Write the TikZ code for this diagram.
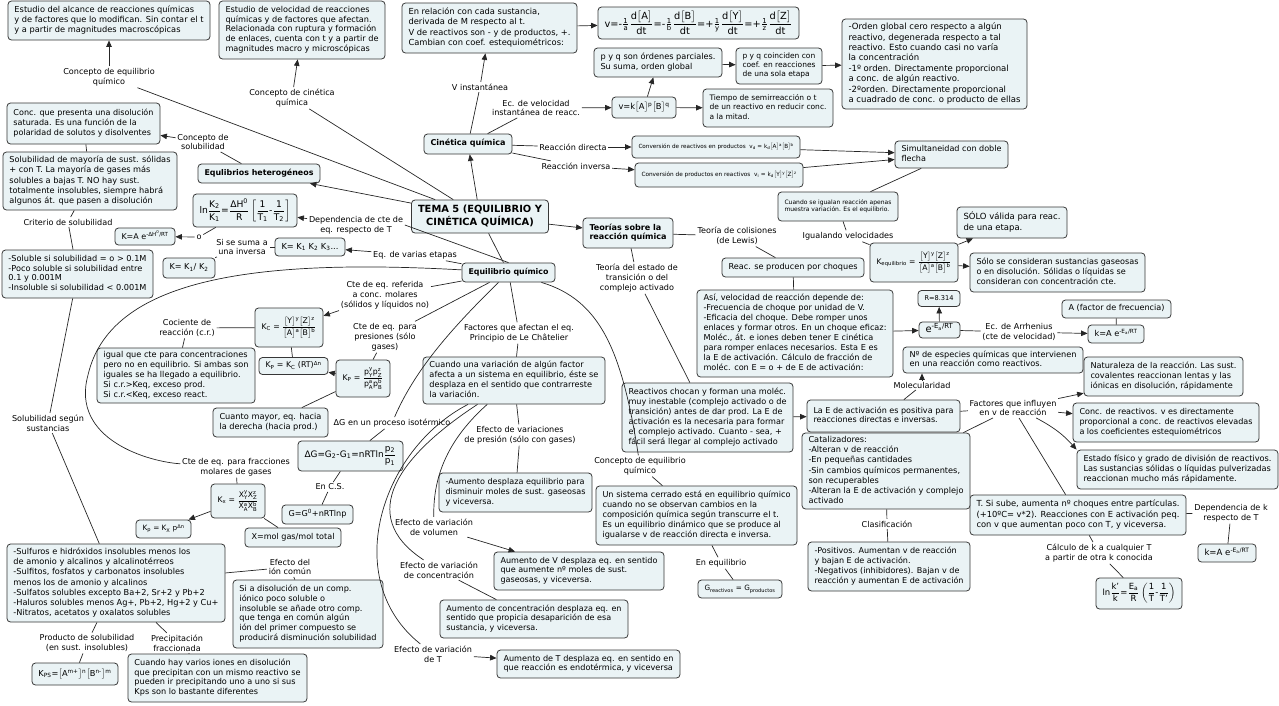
\documentclass[tikz,border=0pt]{standalone}
\usepackage{fontspec}
\setmainfont{DejaVu Sans}
\usepackage{amsmath}
\usepackage{graphicx}
\usetikzlibrary{arrows.meta}
\definecolor{fondo}{RGB}{234,243,245}
\definecolor{borde}{RGB}{55,55,55}
\newcommand{\mt}[1]{\text{#1}}
\newcommand{\frc}[2]{\dfrac{\text{#1}}{\text{#2}}}
\newcommand{\sfrc}[2]{\frac{\text{#1}}{\text{#2}}}
\newcommand{\brk}[1]{$\big[$#1$\big]$}
\newcommand{\ajusta}[2]{\resizebox{#1pt}{!}{\begin{tabular}{@{}l@{}}#2\end{tabular}}}
\newcommand{\ajustac}[2]{\resizebox{#1pt}{!}{\begin{tabular}{@{}c@{}}#2\end{tabular}}}
\begin{document}
\begin{tikzpicture}[x=1pt,y=-1pt,line width=0.7pt,draw=black!85]
\tikzset{caja/.style={draw=borde, fill=fondo, line width=0.8pt, rounded corners=3.5pt, inner xsep=6.5pt, inner ysep=2pt, font=\fontsize{8.1}{9.9}\selectfont},
  negrita/.style={caja, font=\fontsize{8.1}{9.9}\selectfont\bfseries},
  etiq/.style={inner sep=1.5pt, align=center, font=\fontsize{8.1}{9.9}\selectfont},
  flecha/.style={-{Triangle[length=6.5pt,width=5.5pt]}}}
\useasboundingbox (0,0) rectangle (1279,705);
% central node and main branches
\node[negrita, font=\fontsize{10}{12}\selectfont\bfseries, minimum height=33] (tema) at (480,216.5) {\ajustac{124}{TEMA 5 (EQUILIBRIO Y\\CINÉTICA QUÍMICA)}};
\node[negrita, minimum height=20] (cin) at (468,144) {\ajusta{75}{Cinética química}};
\node[negrita, minimum height=19] (eqq) at (508.5,272.5) {\ajusta{80}{Equilibrio químico}};
\node[negrita, minimum height=30] (teor) at (628,233) {\ajusta{77}{Teorías sobre la\\reacción química}};
\node[negrita, minimum height=19] (heter) at (259,173.5) {\ajusta{109}{Equlibrios heterogéneos}};
% concepts
\node[caja, minimum height=39] (eqdef) at (109,20.5) {\ajusta{189}{Estudio del alcance de reacciones químicas\\y de factores que lo modifican. Sin contar el t\\y a partir de magnitudes macroscópicas}};
\node[caja, minimum height=58] (cindef) at (302,30) {\ajusta{153}{Estudio de velocidad de reacciones\\químicas y de factores que afectan.\\Relacionada con ruptura y formación\\de enlaces, cuenta con t y a partir de\\magnitudes macro y microscópicas}};
\node[etiq] (lConEq) at (109,77) {Concepto de equilibrio\\químico};
\node[etiq] (lConCin) at (292,98) {Concepto de cinética\\química};
% solubility
\node[caja, minimum height=41] (soldef) at (83.5,123.5) {\ajusta{140}{Conc. que presenta una disolución\\saturada. Es una función de la\\polaridad de solutos y disolventes}};
\node[caja, minimum height=58] (solmay) at (90,181) {\ajusta{161}{Solubilidad de mayoría de sust. sólidas\\+ con T. La mayoría de gases más\\solubles a bajas T. NO hay sust.\\totalmente insolubles, siempre habrá\\algunos át. que pasen a disolución}};
\node[caja, minimum height=48] (solcrit) at (77.5,274) {\ajusta{138}{-Soluble si solubilidad = o > 0.1M\\-Poco soluble si solubilidad entre\\0.1 y 0.001M\\-Insoluble si solubilidad < 0.001M}};
\node[caja, minimum height=78] (sulf) at (116,583) {\ajusta{205}{-Sulfuros e hidróxidos insolubles menos los\\de amonio y alcalinos y alcalinotérreos\\-Sulfitos, fosfatos y carbonatos insolubles\\menos los de amonio y alcalinos\\-Sulfatos solubles excepto Ba+2, Sr+2 y Pb+2\\-Haluros solubles menos Ag+, Pb+2, Hg+2 y Cu+\\-Nitratos, acetatos y oxalatos solubles}};
\node[caja, minimum height=68] (ioncomun) at (308,614) {\ajusta{137}{Si a disolución de un comp.\\iónico poco soluble o\\insoluble se añade otro comp.\\que tenga en común algún\\ión del primer compuesto se\\producirá disminución solubilidad}};
\node[caja, minimum height=22] (kps) at (75,674) {\ajusta{73}{K\textsubscript{PS}=\brk{A\textsuperscript{m+}}\textsuperscript{n}\brk{B\textsuperscript{n-}}\textsuperscript{m}}};
\node[caja, minimum height=48] (precip) at (217.5,678) {\ajusta{166}{Cuando hay varios iones en disolución\\que precipitan con un mismo reactivo se\\pueden ir precipitando uno a uno si sus\\Kps son lo bastante diferentes}};
\node[etiq] (lConSol) at (203,142) {Concepto de\\solubilidad};
\node[etiq] (lCrit) at (68,222) {Criterio de solubilidad};
\node[etiq] (lSolSeg) at (48,423) {Solubilidad según\\sustancias};
\node[etiq] (lIon) at (290,567) {Efecto del\\ión común};
\node[etiq] (lProd) at (87,643) {Producto de solubilidad\\(en sust. insolubles)};
\node[etiq] (lPrec) at (177,643) {Precipitación\\fraccionada};
% equilibrium constants
\node[caja, minimum height=33] (lnK) at (245,210.5) {\ajusta{91}{$\mt{ln}\frc{K\textsubscript{2}}{K\textsubscript{1}}\mt{=}\frc{ΔH\textsuperscript{0}}{R}\left[\frc{1}{T\textsubscript{1}}\mt{-}\frc{1}{T\textsubscript{2}}\right]$}};
\node[caja, minimum height=17] (KAe) at (145,236.5) {\ajusta{47}{K=A e\textsuperscript{-ΔH\textsuperscript{0}/RT}}};
\node[caja, minimum height=18] (Kprod) at (310,247) {\ajusta{57}{K= K\textsubscript{1} K\textsubscript{2} K\textsubscript{3}...}};
\node[caja, minimum height=20] (Kdiv) at (189,268) {\ajusta{39}{K= K\textsubscript{1}/ K\textsubscript{2}}};
\node[caja, minimum height=39] (Kc) at (289,327.5) {\ajusta{55}{$\mt{K}_{\mt{C}}\mt{ = }\frc{\brk{Y}\textsuperscript{y}\brk{Z}\textsuperscript{z}}{\brk{A}\textsuperscript{a}\brk{B}\textsuperscript{b}}$}};
\node[caja, minimum height=55] (cr) at (176,375.5) {\ajusta{145}{igual que cte para concentraciones\\pero no en equilibrio. Si ambas son\\iguales se ha llegado a equilibrio.\\Si c.r.>Keq, exceso prod.\\Si c.r.<Keq, exceso react.}};
\node[caja, minimum height=17] (Kp) at (293.5,366) {\ajusta{56}{K\textsubscript{P} = K\textsubscript{C} (RT)\textsuperscript{Δn}}};
\node[caja, minimum height=37] (Kpp) at (363,378.5) {\ajusta{41}{$\mt{K}_{\mt{P}}\mt{ = }\frc{p$^{\mt{y}}_{\mt{Y}}$p$^{\mt{z}}_{\mt{Z}}$}{p$^{\mt{a}}_{\mt{A}}$p$^{\mt{b}}_{\mt{B}}$}$}};
\node[caja, minimum height=29] (mayor) at (270.5,422.5) {\ajusta{102}{Cuanto mayor, eq. hacia\\la derecha (hacia prod.)}};
\node[caja, minimum height=30] (dG) at (350.5,456) {\ajusta{92}{ΔG=G\textsubscript{2}-G\textsubscript{1}=nRTln$\frc{p\textsubscript{2}}{p\textsubscript{1}}$}};
\node[caja, minimum height=19] (G0) at (317.5,514.5) {\ajusta{58}{G=G\textsuperscript{0}+nRTlnp}};
\node[caja, minimum height=19] (X) at (293,537.5) {\ajusta{83}{X=mol gas/mol total}};
\node[caja, minimum height=34] (Kx) at (238,501) {\ajusta{41}{$\mt{K}_{\mt{x}}\mt{ = }\frc{X$^{\mt{y}}_{\mt{Y}}$X$^{\mt{z}}_{\mt{Z}}$}{X$^{\mt{a}}_{\mt{A}}$X$^{\mt{b}}_{\mt{B}}$}$}};
\node[caja, minimum height=18] (KpKx) at (163.5,529) {\ajusta{42}{K\textsubscript{p} = K\textsubscript{X} p\textsuperscript{Δn}}};
\node[etiq] (lDep) at (356,225) {Dependencia de cte de\\eq. respecto de T};
\node[etiq] (lO) at (199,237) {o};
\node[etiq] (lSuma) at (242,247) {Si se suma a\\una inversa};
\node[etiq] (lEtapas) at (415,255) {Eq. de varias etapas};
\node[etiq] (lCteRef) at (385,295) {Cte de eq. referida\\a conc. molares\\(sólidos y líquidos no)};
\node[etiq] (lCoc) at (187,328) {Cociente de\\reacción (c.r.)};
\node[etiq] (lCtePres) at (385,337) {Cte de eq. para\\presiones (sólo\\gases)};
\node[etiq] (lDG) at (392,423) {ΔG en un proceso isotérmico};
\node[etiq] (lCS) at (330,487) {En C.S.};
\node[etiq] (lFracc) at (236,467) {Cte de eq. para fracciones\\molares de gases};
% Le Chatelier
\node[caja, minimum height=47] (cuando) at (514,380.5) {\ajusta{169}{Cuando una variación de algún factor\\afecta a un sistema en equilibrio, éste se\\desplaza en el sentido que contrarreste\\la variación.}};
\node[caja, minimum height=39] (presion) at (515.5,492.5) {\ajusta{140}{-Aumento desplaza equilibrio para\\disminuir moles de sust. gaseosas\\y viceversa.}};
\node[caja, minimum height=38] (vol) at (579,571) {\ajusta{157}{Aumento de V desplaza eq. en sentido\\que aumente nº moles de sust.\\gaseosas, y viceversa.}};
\node[caja, minimum height=38] (conc) at (534,619) {\ajusta{175}{Aumento de concentración desplaza eq. en\\sentido que propicia desaparición de esa\\sustancia, y viceversa.}};
\node[caja, minimum height=28] (Tef) at (588.5,664) {\ajusta{170}{Aumento de T desplaza eq. en sentido en\\que reacción es endotérmica, y viceversa}};
\node[caja, minimum height=59] (sist) at (696.5,515.5) {\ajusta{188}{Un sistema cerrado está en equilibrio químico\\cuando no se observan cambios en la\\composición química según transcurre el t.\\Es un equilibrio dinámico que se produce al\\igualarse v de reacción directa e inversa.}};
\node[caja, minimum height=18] (G) at (740,589) {\ajusta{71}{G\textsubscript{reactivos} = G\textsubscript{productos}}};
\node[etiq] (lFactEq) at (519,333) {Factores que afectan el eq.\\Principio de Le Châtelier};
\node[etiq] (lPres) at (520,435) {Efecto de variaciones\\de presión (sólo con gases)};
\node[etiq] (lVol) at (434,527) {Efecto de variación\\de volumen};
\node[etiq] (lConc) at (439,570) {Efecto de variación\\de concentración};
\node[etiq] (lTef) at (433,654) {Efecto de variación\\de T};
\node[etiq] (lConEq2) at (640,466) {Concepto de equilibrio\\químico};
\node[etiq] (lEnEq) at (721,563) {En equilibrio};
% kinetics
\node[caja, minimum height=50] (enrel) at (489.5,28) {\ajusta{162}{En relación con cada sustancia,\\derivada de M respecto al t.\\V de reactivos son - y de productos, +.\\Cambian con coef. estequiométricos:}};
\node[caja, minimum height=32] (vdef) at (698.5,23) {\ajusta{188}{$\mt{v=-}\sfrc{1}{a}\frc{d\brk{A}}{dt}\mt{=-}\sfrc{1}{b}\frc{d\brk{B}}{dt}\mt{=+}\sfrc{1}{y}\frc{d\brk{Y}}{dt}\mt{=+}\sfrc{1}{z}\frc{d\brk{Z}}{dt}$}};
\node[caja, minimum height=21] (vk) at (644,107.5) {\ajusta{51}{v=k\brk{A}\textsuperscript{p}\brk{B}\textsuperscript{q}}};
\node[caja, minimum height=29] (pq) at (658,62.5) {\ajusta{115}{p y q son órdenes parciales.\\Su suma, orden global}};
\node[caja, minimum height=36] (pqcoin) at (779,66) {\ajusta{73}{p y q coinciden con\\coef. en reacciones\\de una sola etapa}};
\node[caja, minimum height=90] (orden) at (934.5,64) {\ajusta{172}{-Orden global cero respecto a algún\\reactivo, degenerada respecto a tal\\reactivo. Esto cuando casi no varía\\la concentración\\-1º orden. Directamente proporcional\\a conc. de algún reactivo.\\-2ºorden. Directamente proporcional\\a cuadrado de conc. o producto de ellas}};
\node[caja, minimum height=38] (semi) at (768,108) {\ajusta{117}{Tiempo de semirreacción o t\\de un reactivo en reducir conc.\\a la mitad.}};
\node[caja, minimum height=22] (convd) at (716,147) {\ajusta{155}{Conversión de reactivos en productos\ \ v\textsubscript{d} = k\textsubscript{d}\brk{A}\textsuperscript{a}\brk{B}\textsuperscript{b}}};
\node[caja, minimum height=24] (convi) at (719,175) {\ajusta{155}{Conversión de productos en reactivos\ \ v\textsubscript{i} = k\textsubscript{d}\brk{Y}\textsuperscript{y}\brk{Z}\textsuperscript{z}}};
\node[caja, minimum height=27] (simul) at (951.5,154.5) {\ajusta{100}{Simultaneidad con doble\\flecha}};
\node[caja, minimum height=29] (igual) at (838,206.5) {\ajusta{107}{Cuando se igualan reacción apenas\\muestra variación. Es el equilibrio.}};
\node[caja, minimum height=39] (Keq) at (914,262.5) {\ajusta{75}{$\mt{K}_{\mt{equilibrio}}\mt{ = }\frc{\brk{Y}\textsuperscript{y}\brk{Z}\textsuperscript{z}}{\brk{A}\textsuperscript{a}\brk{B}\textsuperscript{b}}$}};
\node[caja, minimum height=31] (solo) at (1012,222.5) {\ajusta{97}{SÓLO válida para reac.\\de una etapa.}};
\node[caja, minimum height=39] (solocons) at (1057.5,272.5) {\ajusta{162}{Sólo se consideran sustancias gaseosas\\o en disolución. Sólidas o líquidas se\\consideran con concentración cte.}};
\node[etiq] (lVinst) at (480,87) {V instantánea};
\node[etiq] (lEcvel) at (536,108) {Ec. de velocidad\\instantánea de reacc.};
\node[etiq] (lRdir) at (573,147) {Reacción directa};
\node[etiq] (lRinv) at (576,166) {Reacción inversa};
\node[etiq] (lIguala) at (848,236) {Igualando velocidades};
% reaction theories
\node[caja, minimum height=19] (choques) at (793,267.5) {\ajusta{129}{Reac. se producen por choques}};
\node[caja, minimum height=87] (asi) at (795,333.5) {\ajusta{183}{Así, velocidad de reacción depende de:\\-Frecuencia de choque por unidad de V.\\-Eficacia del choque. Debe romper unos\\enlaces y formar otros. En un choque eficaz:\\*Moléc., át. e iones deben tener E cinética\\para romper enlaces necesarios. Esta E es\\la E de activación. Cálculo de fracción de\\moléc. con E = o + de E de activación:}};
\node[caja, minimum height=16] (exp) at (939.5,330) {\ajusta{28}{e\textsuperscript{-E\textsubscript{a}/RT}}};
\node[caja, minimum height=16] (R) at (939,298.5) {\ajusta{29}{R=8.314}};
\node[caja, minimum height=18] (karr) at (1116,334) {\ajusta{43}{k=A e\textsuperscript{-E\textsubscript{a}/RT}}};
\node[caja, minimum height=18] (Afac) at (1116.5,309) {\ajusta{96}{A (factor de frecuencia)}};
\node[caja, minimum height=26] (nesp) at (993,360) {\ajusta{167}{Nº de especies químicas que intervienen\\en una reacción como reactivos.}};
\node[caja, minimum height=69] (react) at (707.5,417.5) {\ajusta{158}{Reactivos chocan y forman una moléc.\\muy inestable (complejo activado o de\\transición) antes de dar prod. La E de\\activación es la necesaria para formar\\el complejo activado. Cuanto - sea, +\\fácil será llegar al complejo activado}};
\node[caja, minimum height=32] (Ea) at (883.5,416) {\ajusta{140}{La E de activación es positiva para\\reacciones directas e inversas.}};
\node[caja, minimum height=39] (natur) at (1163.5,376.5) {\ajusta{146}{Naturaleza de la reacción. Las sust.\\covalentes reaccionan lentas y las\\iónicas en disolución, rápidamente}};
\node[caja, minimum height=39] (concr) at (1166,422.5) {\ajusta{173}{Conc. de reactivos. v es directamente\\proporcional a conc. de reactivos elevadas\\a los coeficientes estequiométricos}};
\node[caja, minimum height=39] (estado) at (1177.5,469.5) {\ajusta{188}{Estado físico y grado de división de reactivos.\\Las sustancias sólidas o líquidas pulverizadas\\reaccionan mucho más rápidamente.}};
\node[caja, minimum height=40] (T) at (1078,515) {\ajusta{203}{T. Si sube, aumenta nº choques entre partículas.\\(+10ºC= v*2). Reacciones con E activación peq.\\con v que aumentan poco con T, y viceversa.}};
\node[caja, minimum height=18] (kT) at (1227,553) {\ajusta{45}{k=A e\textsuperscript{-E\textsubscript{a}/RT}}};
\node[caja, minimum height=31] (ln) at (1139,593.5) {\ajusta{73}{$\mt{ln}\frc{k'}{k}\mt{=}\frc{E\textsubscript{a}}{R}\left(\frc{1}{T}\mt{-}\frc{1}{T'}\right)$}};
\node[caja, minimum height=76] (catal) at (886,471) {\ajusta{155}{Catalizadores:\\-Alteran v de reacción\\-En pequeñas cantidades\\-Sin cambios químicos permanentes,\\son recuperables\\-Alteran la E de activación y complejo\\activado}};
\node[caja, minimum height=49] (posit) at (889,566.5) {\ajusta{149}{-Positivos. Aumentan v de reacción\\y bajan E de activación.\\-Negativos (inhibidores). Bajan v de\\reacción y aumentan E de activación}};
\node[etiq] (lColis) at (737,236) {Teoría de colisiones\\(de Lewis)};
\node[etiq] (lTrans) at (637,278) {Teoría del estado de\\transición o del\\complejo activado};
\node[etiq] (lArrh) at (1019,332) {Ec. de Arrhenius\\(cte de velocidad)};
\node[etiq] (lMolec) at (922,385) {Molecularidad};
\node[etiq] (lFact) at (1013,408) {Factores que influyen\\en v de reacción};
\node[etiq] (lDepk) at (1231,513) {Dependencia de k\\respecto de T};
\node[etiq] (lCalc) at (1099,553) {Cálculo de k a cualquier T\\a partir de otra k conocida};
\node[etiq] (lClas) at (887,524) {Clasificación};
% connectors
\draw (tema) -- (lConEq);
\draw[flecha] (lConEq) -- (eqdef);
\draw (tema) -- (lConCin);
\draw[flecha] (lConCin) -- (cindef);
\draw[flecha] (tema) -- (heter);
\draw (heter) -- (lConSol);
\draw[flecha] (lConSol) -- (soldef);
\draw (soldef) -- (solmay);
\draw (solmay) -- (lCrit);
\draw (lCrit) -- (solcrit);
\draw (solcrit) -- (lSolSeg);
\draw (lSolSeg) -- (sulf);
\draw (sulf) -- (lIon);
\draw (lIon) -- (ioncomun);
\draw (sulf) -- (lProd);
\draw (lProd) -- (kps);
\draw (sulf) -- (lPrec);
\draw (lPrec) -- (precip);
\draw (tema) -- (eqq);
\draw[flecha] (tema) -- (cin);
\draw[flecha] (tema) -- (teor);
\draw (eqq.north) -- (lDep.east);
\draw[flecha] (lDep) -- (lnK);
\draw (lnK) -- (lO);
\draw[flecha] (lO) -- (KAe);
\draw (eqq) -- (lEtapas);
\draw[flecha] (lEtapas) -- (Kprod);
\draw (Kprod) -- (lSuma);
\draw (lSuma) -- (Kdiv);
\draw (eqq) -- (lCteRef);
\draw[flecha] (lCteRef) -- (Kc);
\draw (Kc) -- (lCoc);
\draw (lCoc) -- (cr);
\draw (Kc) -- (Kp);
\draw (eqq) -- (lCtePres);
\draw (lCtePres) -- (Kpp);
\draw[flecha] (Kpp) -- (Kp);
\draw (Kpp) -- (mayor);
\draw (eqq) .. controls (450,330) and (415,370) .. (lDG);
\draw (lDG) -- (dG);
\draw (dG) -- (lCS);
\draw (lCS) -- (G0);
\draw (eqq) .. controls (250,258) and (110,280) .. (88,375) .. controls (70,440) and (150,462) .. (lFracc);
\draw (lFracc) -- (Kx);
\draw[flecha] (Kx) -- (KpKx);
\draw (Kx) -- (X);
\draw (eqq) -- (lFactEq);
\draw (lFactEq) -- (cuando);
\draw (cuando) -- (lPres);
\draw (lPres) -- (presion);
\draw (cuando) .. controls (445,442) and (433,480) .. (lVol);
\draw[flecha] (lVol) -- (vol);
\draw (cuando) .. controls (400,455) and (355,515) .. (lConc);
\draw (lConc) -- (conc);
\draw (cuando) .. controls (380,450) and (340,580) .. (lTef);
\draw[flecha] (lTef) -- (Tef);
\draw (eqq) .. controls (600,300) and (622,350) .. (lConEq2);
\draw (lConEq2) -- (sist);
\draw (sist) -- (lEnEq);
\draw (lEnEq) -- (G);
\draw (cin) -- (lVinst);
\draw[flecha] (lVinst) -- (enrel);
\draw[flecha] (enrel) -- (vdef);
\draw (cin) -- (lEcvel);
\draw[flecha] (lEcvel) -- (vk);
\draw[flecha] (vk) -- (pq);
\draw[flecha] (pq) -- (pqcoin);
\draw[flecha] (pqcoin) -- (orden);
\draw[flecha] (vk) -- (semi);
\draw (cin) -- (lRdir);
\draw[flecha] (lRdir) -- (convd);
\draw (cin) -- (lRinv);
\draw[flecha] (lRinv) -- (convi);
\draw[flecha] (convd) -- (simul);
\draw[flecha] (convi) -- (simul);
\draw (simul) -- (igual);
\draw (igual) -- (lIguala);
\draw (lIguala) -- (Keq);
\draw[flecha] (Keq) -- (solo);
\draw[flecha] (Keq) -- (solocons);
\draw (teor) -- (lColis);
\draw (lColis) -- (choques);
\draw (choques) -- (asi);
\draw[flecha] (asi) -- (exp);
\draw[flecha] (exp) -- (R);
\draw (exp) -- (lArrh);
\draw[flecha] (lArrh) -- (karr);
\draw (Afac) -- (karr);
\draw (teor) -- (lTrans);
\draw (lTrans) -- (react);
\draw[flecha] (react) -- (Ea);
\draw (Ea) -- (lMolec);
\draw[flecha] (lMolec) -- (lMolec |- nesp.south);
\draw (Ea) -- (lFact);
\draw[flecha] (lFact) -- (natur);
\draw[flecha] (lFact) -- (concr);
\draw[flecha] (lFact) to[bend left=10] (estado.north west);
\draw (lFact) -- (T);
\draw (lFact) -- (catal);
\draw (T) -- (lDepk);
\draw (lDepk) -- (kT);
\draw (T) -- (lCalc);
\draw (lCalc) -- (ln);
\draw (catal) -- (lClas);
\draw (lClas) -- (posit);
\end{tikzpicture}
\end{document}
